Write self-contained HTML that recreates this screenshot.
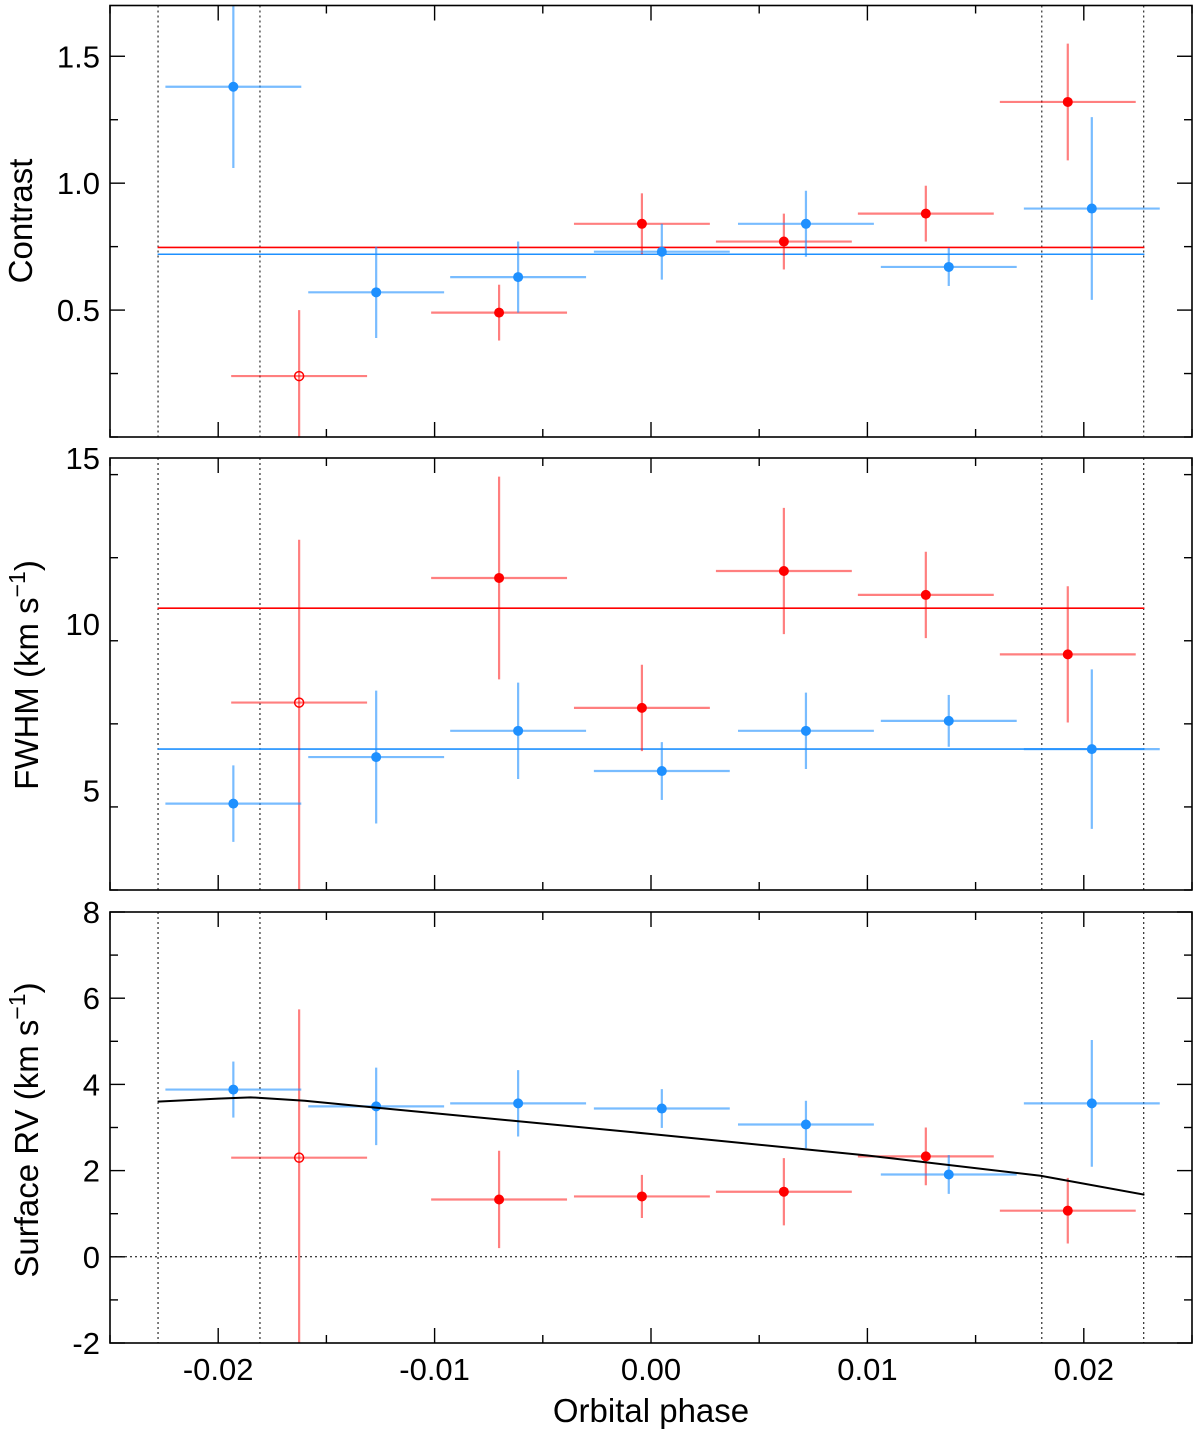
<!DOCTYPE html>
<html><head><meta charset="utf-8"><style>
html,body{margin:0;padding:0;background:#fff;}
svg{display:block;font-family:"Liberation Sans",Arial,sans-serif;}
</style></head><body>
<svg id="chart" width="1200" height="1437" viewBox="0 0 1200 1437" xmlns="http://www.w3.org/2000/svg"></svg>
<script>
// ---- data ----
const blueX = [-0.0193, -0.0127, -0.00614, 0.0005, 0.00716, 0.01376, 0.02037];
const redX = [-0.01626, -0.00702, -0.00042, 0.00614, 0.0127, 0.01926];
const xHalf = 0.00314;
const blueContrast = [1.38, 0.57, 0.63, 0.73, 0.84, 0.67, 0.90];
const blueContrastErr = [0.32, 0.18, 0.14, 0.11, 0.13, 0.075, 0.36];
const redContrast = [0.24, 0.49, 0.84, 0.77, 0.88, 1.32];
const redContrastErr = [0.26, 0.11, 0.12, 0.11, 0.11, 0.23];
const blueFwhm = [4.6, 6.0, 6.79, 5.58, 6.79, 7.09, 6.24];
const blueFwhmErr = [1.15, 2.0, 1.45, 0.87, 1.15, 0.78, 2.4];
const redFwhm = [7.64, 11.39, 7.48, 11.6, 10.88, 9.09];
const redFwhmErr = [4.9, 3.05, 1.3, 1.9, 1.3, 2.05];
const redFwhmErrLow = [6.0, 3.05, 1.3, 1.9, 1.3, 2.05];
const blueRv = [3.88, 3.49, 3.56, 3.44, 3.07, 1.91, 3.56];
const blueRvErr = [0.65, 0.9, 0.77, 0.45, 0.55, 0.45, 1.47];
const redRv = [2.30, 1.33, 1.40, 1.51, 2.33, 1.07];
const redRvErr = [3.44, 1.13, 0.5, 0.78, 0.67, 0.76];
const redRvErrLow = [4.6, 1.13, 0.5, 0.78, 0.67, 0.76];
const meanContrast = {red: 0.747, blue: 0.72};
const meanFwhm = {red: 10.48, blue: 6.24};
const modelX = [-0.0228, -0.020, -0.0185, -0.016, -0.01, 0, 0.01, 0.018, 0.0228];
const modelRv = [3.60, 3.67, 3.70, 3.62, 3.33, 2.85, 2.35, 1.88, 1.44];
const dottedX = [-0.02278, -0.01807, 0.01806, 0.02277];
const xTicks = [-0.02, -0.01, 0.00, 0.01, 0.02];
const xTickLabels = ["-0.02", "-0.01", "0.00", "0.01", "0.02"];
const openRedIndex = 0;

const NS = "http://www.w3.org/2000/svg";
const svg = document.getElementById('chart');
const L = 110, R = 1192;
const x = v => L + (v + 0.025) / 0.05 * (R - L);
function el(tag, attrs, parent) {
  const e = document.createElementNS(NS, tag);
  for (const k in attrs) e.setAttribute(k, attrs[k]);
  (parent || svg).appendChild(e);
  return e;
}
const panels = [
  {name:'contrast', top:5.5, bot:437, min:0, max:1.7, major:[0.5,1.0,1.5], majorLabels:["0.5","1.0","1.5"], minorStep:0.25, title:'Contrast', titleY:221,
   blue:blueContrast, blueErr:blueContrastErr, red:redContrast, redErr:redContrastErr, redErrLow:redContrastErr, means:meanContrast},
  {name:'fwhm', top:458, bot:890, min:2, max:15, major:[5,10,15], majorLabels:["5","10","15"], minorStep:2.5, title:'FWHM (km s', titleY:675,
   blue:blueFwhm, blueErr:blueFwhmErr, red:redFwhm, redErr:redFwhmErr, redErrLow:redFwhmErrLow, means:meanFwhm},
  {name:'surface-rv', top:912, bot:1343, min:-2, max:8, major:[-2,0,2,4,6,8], majorLabels:["-2","0","2","4","6","8"], minorStep:1, title:'Surface RV (km s', titleY:1130,
   blue:blueRv, blueErr:blueRvErr, red:redRv, redErr:redRvErr, redErrLow:redRvErrLow, rv:true}
];
const BLUE='#1E90FF', BLUEL='rgba(30,144,255,0.6)', RED='#FF0000', REDL='rgba(255,0,0,0.5)';
panels.forEach((p, pi) => {
  const g = el('g', {});
  
  
  const y = v => p.bot - (v - p.min) / (p.max - p.min) * (p.bot - p.top);
  const cid = 'clip' + pi;
  const cp = el('clipPath', {id: cid}, g);
  el('rect', {x:L, y:p.top, width:R-L, height:p.bot-p.top}, cp);
  const plot = el('g', {'clip-path':'url(#'+cid+')'}, g);
  dottedX.forEach(d => {
    const ln = el('line', {x1:x(d), x2:x(d), y1:p.top, y2:p.bot, stroke:'#000', 'stroke-width':1, 'stroke-dasharray':'2,3'}, plot);
    
    
  });
  if (p.rv) {
    const z = el('line', {x1:L, x2:R, y1:y(0), y2:y(0), stroke:'#000', 'stroke-width':1, 'stroke-dasharray':'2,3'}, plot);
    
    
  }
  if (p.means) {
    const mr = el('line', {x1:x(-0.0228), x2:x(0.0228), y1:y(p.means.red), y2:y(p.means.red), stroke:RED, 'stroke-width':1.6}, plot);
    
    
    const mb = el('line', {x1:x(-0.0228), x2:x(0.0228), y1:y(p.means.blue), y2:y(p.means.blue), stroke:BLUE, 'stroke-width':1.6}, plot);
    
    
  }
  function series(xs, ys, es, esLow, col, lcol, nm) {
    xs.forEach((xv, i) => {
      const pg = el('g', {}, plot);
      
      
      el('line', {x1:x(xv-xHalf), x2:x(xv+xHalf), y1:y(ys[i]), y2:y(ys[i]), stroke:lcol, 'stroke-width':2.2}, pg);
      el('line', {x1:x(xv), x2:x(xv), y1:y(ys[i]-esLow[i]), y2:y(ys[i]+es[i]), stroke:lcol, 'stroke-width':2.2}, pg);
      const open = nm === 'red' && i === openRedIndex;
      el('circle', {cx:x(xv), cy:y(ys[i]), r:open?4.5:5, fill:open?'none':col, stroke:col, 'stroke-width':open?1.5:0}, pg);
    });
  }
  series(redX, p.red, p.redErr, p.redErrLow, RED, REDL, 'red');
  series(blueX, p.blue, p.blueErr, p.blueErr, BLUE, BLUEL, 'blue');
  if (p.rv) {
    const pts = modelX.map((mx, i) => x(mx) + ',' + y(modelRv[i])).join(' ');
    const m = el('polyline', {points:pts, fill:'none', stroke:'#000', 'stroke-width':2}, plot);
    
    
  }
  el('rect', {x:L, y:p.top, width:R-L, height:p.bot-p.top, fill:'none', stroke:'#000', 'stroke-width':1.6}, g);
  for (let t = -0.025; t <= 0.02501; t += 0.005) {
    const isMaj = Math.abs(Math.round(t*100) - t*100) < 1e-6;
    const len = isMaj ? 15 : 8;
    el('line', {x1:x(t), x2:x(t), y1:p.bot, y2:p.bot-len, stroke:'#000', 'stroke-width':1.4}, g);
    el('line', {x1:x(t), x2:x(t), y1:p.top, y2:p.top+len, stroke:'#000', 'stroke-width':1.4}, g);
  }
  for (let t = p.min; t <= p.max + 1e-9; t += p.minorStep) {
    const isMaj = p.major.some(m => Math.abs(m - t) < 1e-9);
    const len = isMaj ? 15 : 8;
    el('line', {x1:L, x2:L+len, y1:y(t), y2:y(t), stroke:'#000', 'stroke-width':1.4}, g);
    el('line', {x1:R, x2:R-len, y1:y(t), y2:y(t), stroke:'#000', 'stroke-width':1.4}, g);
  }
  p.major.forEach((m, i) => {
    const t = el('text', {x:100, y:y(m)+11, 'text-anchor':'end', 'font-size':31, fill:'#000'}, g);
    t.textContent = p.majorLabels[i];
    
    
  });
  const tt = el('text', {x:0, y:0, 'text-anchor':'middle', 'font-size':33, fill:'#000', transform:'translate(' + (pi===0?32:38) + ',' + p.titleY + ') rotate(-90)'}, g);
  
  
  if (pi === 0) tt.textContent = p.title;
  else {
    tt.appendChild(document.createTextNode(p.title));
    const sp = el('tspan', {dy:-13, 'font-size':23}, tt); sp.textContent = '\u22121';
    const sp2 = el('tspan', {dy:13}, tt); sp2.textContent = ')';
  }
});
xTicks.forEach((t, i) => {
  const tx = el('text', {x:x(t), y:1380, 'text-anchor':'middle', 'font-size':31, fill:'#000'});
  tx.textContent = xTickLabels[i];
  
  
});
const xt = el('text', {x:651, y:1422, 'text-anchor':'middle', 'font-size':33, fill:'#000'});
xt.textContent = 'Orbital phase';


</script>
</body></html>
